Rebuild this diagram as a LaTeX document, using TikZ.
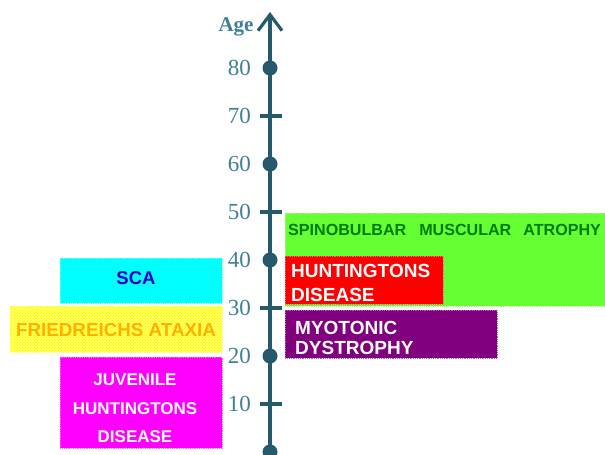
\documentclass[tikz,border=0pt]{standalone}
\usepackage{fontspec}
\setmainfont{Liberation Serif}
\setsansfont{Liberation Sans}
\usetikzlibrary{positioning}
\usetikzlibrary{arrows.meta,patterns}
\definecolor{axisteal}{HTML}{245A6B}
\definecolor{numteal}{HTML}{3E8098}
\definecolor{sbmagreen}{HTML}{66FF33}
\definecolor{sbmatext}{HTML}{007A00}
\definecolor{fatext}{HTML}{FFB000}
\definecolor{scatext}{HTML}{0000CC}
\definecolor{mdpurple}{HTML}{800080}
\definecolor{scacyan}{HTML}{00FFFF}
\definecolor{jhdmagenta}{HTML}{FF00FF}
\definecolor{fayellow}{HTML}{FFFF00}

\tikzset{
  axisline/.style={draw=axisteal, line width=3.2pt},
  agenum/.style={anchor=east, text=numteal, inner sep=0pt, font=\fontsize{23}{23}\selectfont},
  agedot/.style={circle, fill=axisteal, inner sep=0pt, minimum size=15pt},
  disease/.style={anchor=north west, inner sep=0pt, densely dotted, line width=0.8pt},
  dlabel/.style={font=\sffamily\bfseries\fontsize{19}{24}\selectfont, inner sep=0pt},
}

\begin{document}
\begin{tikzpicture}[x=1pt, y=-1pt]
    \useasboundingbox (0,0) rectangle (605,455);

    % disease boxes
    \node[disease, fill=sbmagreen, draw=sbmagreen!60!white, minimum width=325pt, minimum height=93pt] (sbma) at (285,213) {};
    \node[disease, fill=red, draw=red!60!white, minimum width=158pt, minimum height=48pt] (hd) at (285,256) {};
    \node[disease, fill=mdpurple, draw=mdpurple!60!white, minimum width=212pt, minimum height=48pt] (md) at (285,310) {};
    \node[disease, fill=scacyan, draw=scacyan!60!white, minimum width=162pt, minimum height=45pt] (sca) at (60,258) {};
    \node[disease, preaction={fill=fayellow}, pattern=crosshatch, pattern color=white, draw=fayellow!60!white, minimum width=212pt, minimum height=46pt] (fa) at (10,306) {};
    \node[disease, fill=jhdmagenta, draw=jhdmagenta!60!white, minimum width=162pt, minimum height=91pt] (jhd) at (60,357) {};

    % box texts
    \node[dlabel, text=sbmatext, anchor=west, font=\sffamily\bfseries\fontsize{16.1}{18}\selectfont] (sbmatxt) at (288,230) {SPINOBULBAR\hspace{13pt}MUSCULAR\hspace{12pt}ATROPHY};
    \node[dlabel, text=white, anchor=north west, align=left] (hdtxt) at (291,264) {HUNTINGTONS\\DISEASE};
    \node[dlabel, text=white, anchor=north west, align=left, font=\sffamily\bfseries\fontsize{19}{20}\selectfont] (mdtxt) at (295,321) {MYOTONIC\\DYSTROPHY};
    \node[dlabel, text=scatext, font=\sffamily\bfseries\fontsize{18.5}{20}\selectfont] (scatxt) at (136,278) {SCA};
    \node[dlabel, text=fatext, font=\sffamily\bfseries\fontsize{18.8}{20}\selectfont] (fatxt) at (116,330) {FRIEDREICHS ATAXIA};
    \node[dlabel, text=white, anchor=north, align=center, font=\sffamily\bfseries\fontsize{17}{28.5}\selectfont] (jhdtxt) at (135,374) {JUVENILE\\HUNTINGTONS\\DISEASE};

    % age axis
    \coordinate (axbot) at (270,452);
    \coordinate (axtop) at (270,12);
    \draw[axisline, -{Straight Barb[length=16pt, width=24pt]}] (axbot) -- (axtop);
    \node[text=numteal, font=\bfseries\fontsize{21}{21}\selectfont] (agelbl) at (236,27) {Age};

    \foreach \v in {10,30,50,70} {
      \coordinate (t\v) at (270,{452-4.8*\v});
      \draw[axisline] ([xshift=-10pt]t\v) -- ([xshift=12pt]t\v);
    }
    \foreach \v in {0,20,40,60,80}
      \node[agedot] (d\v) at (270,{452-4.8*\v}) {};
    \foreach \v in {10,20,...,80}
      \node[agenum] (n\v) at (251,{452-4.8*\v}) {\v};
\end{tikzpicture}
\end{document}
